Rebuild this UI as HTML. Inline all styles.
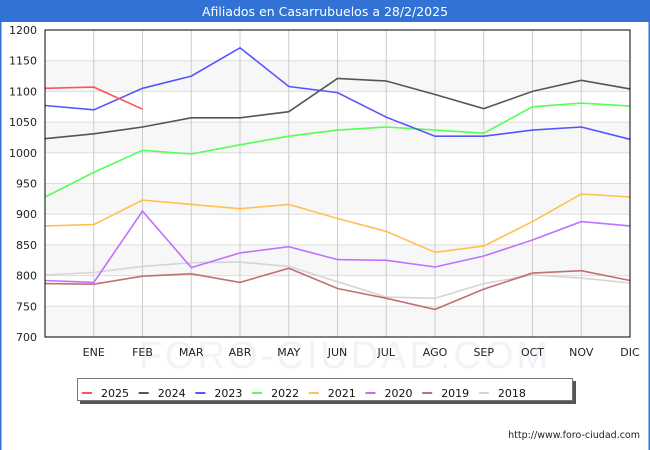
<!DOCTYPE html>
<html><head><meta charset="utf-8">
<style>
body{margin:0;background:#fff;font-family:"DejaVu Sans","Liberation Sans",sans-serif;}
#wrap{position:relative;width:650px;height:450px;overflow:hidden;}
</style></head>
<body>
<div id="wrap">
<svg id="chart" width="650" height="450" xmlns="http://www.w3.org/2000/svg"></svg>
</div>
<script>
const categories = ["", "ENE","FEB","MAR","ABR","MAY","JUN","JUL","AGO","SEP","OCT","NOV","DIC"];
const yTicks = [700,750,800,850,900,950,1000,1050,1100,1150,1200];
const seriesNames = ["2025","2024","2023","2022","2021","2020","2019","2018"];
const seriesColors = ["#ff5555","#555555","#5555ff","#55ff55","#ffc050","#c070ff","#c07070","#d5d5d5"];
const s2025 = [1105,1107,1071];
const s2024 = [1023,1031,1042,1057,1057,1067,1121,1117,1095,1072,1100,1118,1104];
const s2023 = [1077,1070,1105,1125,1171,1108,1098,1058,1027,1027,1037,1042,1022];
const s2022 = [928,968,1004,998,1013,1027,1037,1042,1037,1032,1075,1081,1076];
const s2021 = [881,883,923,916,909,916,893,872,838,848,888,933,928];
const s2020 = [792,789,905,813,837,847,826,825,814,832,858,888,881];
const s2019 = [787,786,799,803,789,812,779,763,745,778,804,808,792];
const s2018 = [801,805,815,821,822,815,790,765,763,787,801,796,788];

const svg = document.getElementById('chart');
const NS = "http://www.w3.org/2000/svg";
const L=45,R=630,T=30,B=337,YMIN=700,YMAX=1200;
function x(i){return L+i*(R-L)/(categories.length-1);}
function y(v){return B-(v-YMIN)*(B-T)/(YMAX-YMIN);}
function mk(tag,attrs,parent){const e=document.createElementNS(NS,tag);for(const k in attrs)e.setAttribute(k,attrs[k]);(parent||svg).appendChild(e);return e;}

let tb=mk('rect',{x:0,y:0,width:650,height:22,fill:'#3272d4'});


let tt=mk('text',{x:325,y:16,'text-anchor':'middle','font-size':12.5,fill:'#fff'});
tt.textContent='Afiliados en Casarrubuelos a 28/2/2025';


let bl=mk('rect',{x:0,y:22,width:1.5,height:428,fill:'#3272d4'});


let br=mk('rect',{x:648.5,y:22,width:1.5,height:428,fill:'#3272d4'});



for(let i=0;i<yTicks.length-1;i++){
  if(i%2===0){
    let r=mk('rect',{x:L,y:y(yTicks[i+1]),width:R-L,height:y(yTicks[i])-y(yTicks[i+1]),fill:'#f7f7f7'});
    
    
  }
}
let wm=mk('text',{x:345,y:368,'text-anchor':'middle','font-size':38,fill:'#f2f2f8','font-family':'Liberation Sans, sans-serif','letter-spacing':'3'});
wm.textContent='FORO-CIUDAD.COM';


yTicks.forEach(v=>{
  let g=mk('line',{x1:L,x2:R,y1:y(v),y2:y(v),stroke:'#dddddd','stroke-width':1});
  
  
  let t=mk('text',{x:37,y:y(v)+4,'text-anchor':'end','font-size':11,fill:'#222'});
  t.textContent=v;
  
  
});
categories.forEach((c,i)=>{
  if(i===0)return;
  let g=mk('line',{x1:x(i),x2:x(i),y1:T,y2:B,stroke:'#cccccc','stroke-width':1});
  
  
  let t=mk('text',{x:x(i),y:356,'text-anchor':'middle','font-size':11,fill:'#222'});
  t.textContent=c;
  
  
});
const allSeries=[s2025,s2024,s2023,s2022,s2021,s2020,s2019,s2018];
for(let k=allSeries.length-1;k>=0;k--){
  const d=allSeries[k];
  const pts=d.map((v,i)=>x(i).toFixed(1)+','+y(v).toFixed(1)).join(' ');
  let p=mk('polyline',{points:pts,fill:'none',stroke:seriesColors[k],'stroke-width':1.6});
  
  
}
let fr=mk('rect',{x:L,y:T,width:R-L,height:B-T,fill:'none',stroke:'#000','stroke-width':1});



let ls=mk('rect',{x:80,y:381,width:496,height:23,fill:'#555'});


let lb=mk('rect',{x:77.5,y:378.5,width:495,height:22,fill:'#fff',stroke:'#777','stroke-width':1});


seriesNames.forEach((n,k)=>{
  const lx=82+k*56.7;
  let m=mk('line',{x1:lx,x2:lx+10,y1:393,y2:393,stroke:seriesColors[k],'stroke-width':2});
  
  
  let t=mk('text',{x:lx+19,y:397,'font-size':11,fill:'#111'});
  t.textContent=n;
  
  
});
let fu=mk('text',{x:640,y:438,'text-anchor':'end','font-size':9.5,fill:'#222'});
fu.textContent='http://www.foro-ciudad.com';


</script>
</body></html>
